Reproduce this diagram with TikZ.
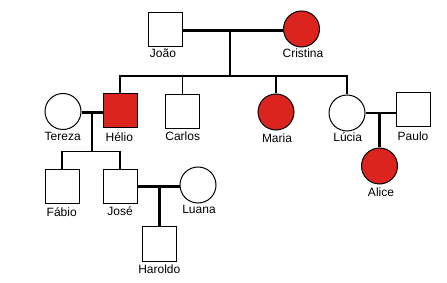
\documentclass[tikz,border=0pt]{standalone}
\usepackage{fontspec}
\setmainfont{Liberation Sans}
\definecolor{affred}{RGB}{220,36,30}
\begin{document}
\begin{tikzpicture}[x=1pt,y=-1pt,
  male/.style={draw,line width=1pt,minimum size=34pt,inner sep=0pt,rectangle},
  female/.style={draw,line width=1pt,minimum size=36pt,inner sep=0pt,circle},
  aff/.style={fill=affred},
  lbl/.style={inner sep=0pt,font=\fontsize{12}{14}\selectfont},
  marr/.style={line width=2.4pt},
  desc/.style={line width=2.2pt},
  sib/.style={line width=1.2pt}]
\useasboundingbox (0,0) rectangle (447,283);
% generation I
\node[male] (joao) at (165,30) {};
\node[female,aff] (cristina) at (301.5,29) {};
% generation II
\node[female] (tereza) at (63,111.5) {};
\node[male,aff] (helio) at (120,111) {};
\node[male] (carlos) at (182.5,111.7) {};
\node[female,aff] (maria) at (276,112) {};
\node[female] (lucia) at (347,113) {};
\node[male] (paulo) at (413,110) {};
% generation III
\node[male] (fabio) at (62,186.7) {};
\node[male] (jose) at (120,186.7) {};
\node[female] (luana) at (198,185) {};
\node[female,aff] (alice) at (379.5,166) {};
% generation IV
\node[male] (haroldo) at (159.5,244) {};
% labels
\node[lbl] (ljoao) at (163,53) {João};
\node[lbl] (lcristina) at (303,53) {Cristina};
\node[lbl] (ltereza) at (62.7,136.7) {Tereza};
\node[lbl] (lhelio) at (119.3,136.7) {Hélio};
\node[lbl] (lcarlos) at (182.7,136.7) {Carlos};
\node[lbl] (lmaria) at (277,138) {Maria};
\node[lbl] (llucia) at (347.7,137.5) {Lúcia};
\node[lbl] (lpaulo) at (413,136) {Paulo};
\node[lbl] (lalice) at (381,192.7) {Alice};
\node[lbl] (lfabio) at (61.7,212.3) {Fábio};
\node[lbl] (ljose) at (120,211) {José};
\node[lbl] (lluana) at (199,209.3) {Luana};
\node[lbl] (lharoldo) at (159.3,269) {Haroldo};
% coordinates
\coordinate (m1) at (230,30.5);
\coordinate (s1) at (230,76);
\coordinate (m2) at (92,112.5);
\coordinate (s2) at (92,151.7);
\coordinate (m3) at (379.5,113.3);
\coordinate (m4) at (159.5,186.7);
% generation I family
\draw[marr] (joao.east |- m1) -- (cristina.west |- m1);
\draw[desc] (m1) -- (s1);
\draw[sib] (helio.north) |- (s1) -| (lucia.north);
\draw[sib] (carlos.north) -- (carlos.north |- s1);
\draw[sib] (maria.north) -- (maria.north |- s1);
% Tereza + Helio
\draw[marr] (tereza.east |- m2) -- (helio.west |- m2);
\draw[desc] (m2) -- (s2);
\draw[sib] (fabio.north) |- (s2) -| (jose.north);
% Lucia + Paulo
\draw[marr] (lucia.east |- m3) -- (paulo.west |- m3);
\draw[desc] (m3) -- (alice.north);
% Jose + Luana
\draw[marr] (jose.east |- m4) -- (luana.west |- m4);
\draw[desc] (m4) -- (haroldo.north);
\end{tikzpicture}
\end{document}
